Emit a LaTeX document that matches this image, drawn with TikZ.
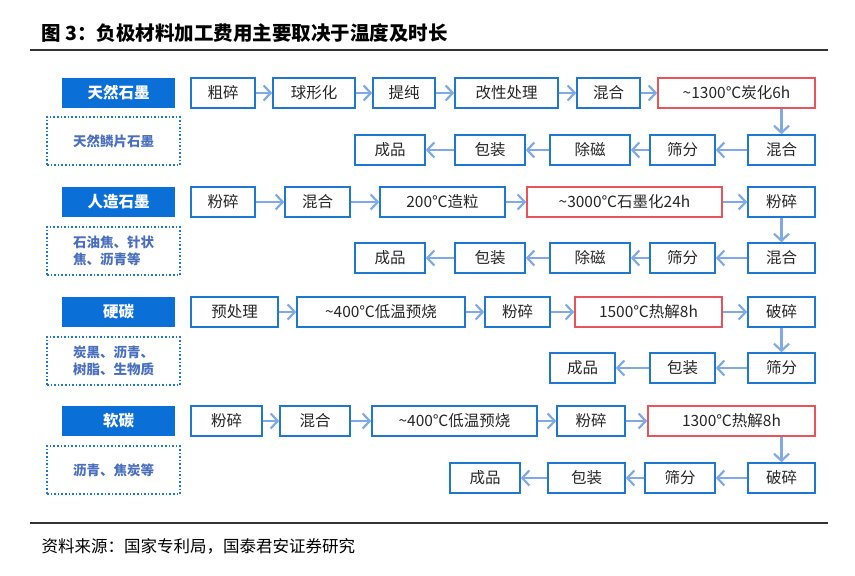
\documentclass[tikz,border=0pt]{standalone}
\usepackage{fontspec}
\setmainfont{Noto Sans CJK SC}
\usetikzlibrary{arrows.meta}
\definecolor{bblue}{HTML}{1F78D0}
\definecolor{fblue}{HTML}{0A6FD6}
\definecolor{ablue}{HTML}{7FAAE6}
\definecolor{rred}{HTML}{E8545A}
\definecolor{dtext}{HTML}{4A6FBF}
\begin{document}
\begin{tikzpicture}[x=1pt,y=-1pt,
  box/.style={draw=bblue,line width=1.6pt,minimum height=30pt,inner sep=0pt,font=\fontsize{15.5}{15.5}\selectfont,text=black!85},
  rbox/.style={box,draw=rred},
  lab/.style={fill=fblue,minimum width=113pt,minimum height=30pt,inner sep=0pt,text=white,font=\fontsize{15.5}{15.5}\selectfont\bfseries},
  dot/.style={draw=bblue,dotted,line width=1.6pt,minimum width=133pt,minimum height=48pt,inner sep=0pt,text=dtext,font=\fontsize{13.5}{17}\selectfont\bfseries,align=left},
  arr/.style={draw=ablue,line width=2.2pt,-{Straight Barb[length=7pt,width=15pt]}}]
\useasboundingbox (0,0) rectangle (855,576);
\node[anchor=west,font=\fontsize{19.5}{19.5}\selectfont\bfseries] (title) at (38,33) {图 3：负极材料加工费用主要取决于温度及时长};
\draw[line width=1.5pt,black!80] (30,50) coordinate (t1) -- (828,50) coordinate (t2);
\draw[line width=1.5pt,black!80] (30,523) coordinate (b1) -- (828,523) coordinate (b2);
\node[anchor=west,font=\fontsize{16.5}{16.5}\selectfont] (src) at (38,546) {资料来源：国家专利局，国泰君安证券研究};
% row 1
\node[lab] (L1) at (118.5,93) {天然石墨};
\node[dot] (D1) at (113.5,141) {天然鳞片石墨};
\node[box,minimum width=64pt] (a1) at (223,93) {粗碎};
\node[box,minimum width=82pt] (a2) at (314,93) {球形化};
\node[box,minimum width=62pt] (a3) at (404,93) {提纯};
\node[box,minimum width=103pt] (a4) at (506.5,93) {改性处理};
\node[box,minimum width=63pt] (a5) at (608.5,93) {混合};
\node[rbox,minimum width=157pt] (a6) at (736.5,93) {\textasciitilde1300℃炭化6h};
\node[box,minimum width=67pt] (b1n) at (781.5,150) {混合};
\node[box,minimum width=65pt] (b2n) at (682.5,150) {筛分};
\node[box,minimum width=80pt] (b3n) at (590,150) {除磁};
\node[box,minimum width=70pt] (b4n) at (490,150) {包装};
\node[box,minimum width=70pt] (b5n) at (390,150) {成品};
\foreach \p/\q in {a1/a2,a2/a3,a3/a4,a4/a5,a5/a6,b1n/b2n,b2n/b3n,b3n/b4n,b4n/b5n} \draw[arr] (\p) -- (\q);
\draw[arr] (a6.south -| b1n) -- (b1n);
% row 2
\node[lab] (L2) at (118.5,202) {人造石墨};
\node[dot] (D2) at (113.5,251) {石油焦、针状\\焦、沥青等};
\node[box,minimum width=64pt] (c1) at (223,202) {粉碎};
\node[box,minimum width=65pt] (c2) at (317.5,202) {混合};
\node[box,minimum width=125pt] (c3) at (442.5,202) {200℃造粒};
\node[rbox,minimum width=195pt] (c4) at (624.5,202) {\textasciitilde3000℃石墨化24h};
\node[box,minimum width=67pt] (c5) at (781.5,202) {粉碎};
\node[box,minimum width=67pt] (d1) at (781.5,258) {混合};
\node[box,minimum width=65pt] (d2) at (682.5,258) {筛分};
\node[box,minimum width=80pt] (d3) at (590,258) {除磁};
\node[box,minimum width=70pt] (d4) at (490,258) {包装};
\node[box,minimum width=70pt] (d5) at (390,258) {成品};
\foreach \p/\q in {c1/c2,c2/c3,c3/c4,c4/c5,c5/d1,d1/d2,d2/d3,d3/d4,d4/d5} \draw[arr] (\p) -- (\q);
% row 3
\node[lab] (L3) at (118.5,312) {硬碳};
\node[dot] (D3) at (113.5,361) {炭黑、沥青、\\树脂、生物质};
\node[box,minimum width=87pt] (e1) at (234.5,312) {预处理};
\node[box,minimum width=168pt] (e2) at (381,312) {\textasciitilde400℃低温预烧};
\node[box,minimum width=65pt] (e3) at (517.5,312) {粉碎};
\node[rbox,minimum width=147pt] (e4) at (648.5,312) {1500℃热解8h};
\node[box,minimum width=67pt] (e5) at (781.5,312) {破碎};
\node[box,minimum width=67pt] (f1) at (781.5,368) {筛分};
\node[box,minimum width=65pt] (f2) at (682.5,368) {包装};
\node[box,minimum width=65pt] (f3) at (582.5,368) {成品};
\foreach \p/\q in {e1/e2,e2/e3,e3/e4,e4/e5,e5/f1,f1/f2,f2/f3} \draw[arr] (\p) -- (\q);
% row 4
\node[lab] (L4) at (118.5,421) {软碳};
\node[dot] (D4) at (113.5,470) {沥青、焦炭等};
\node[box,minimum width=71pt] (g1) at (226.5,421) {粉碎};
\node[box,minimum width=70pt] (g2) at (315,421) {混合};
\node[box,minimum width=165pt] (g3) at (454.5,421) {\textasciitilde400℃低温预烧};
\node[box,minimum width=68pt] (g4) at (591,421) {粉碎};
\node[rbox,minimum width=167pt] (g5) at (731.5,421) {1300℃热解8h};
\node[box,minimum width=67pt] (h1) at (781.5,478) {破碎};
\node[box,minimum width=70pt] (h2) at (680,478) {筛分};
\node[box,minimum width=77pt] (h3) at (586.5,478) {包装};
\node[box,minimum width=70pt] (h4) at (485,478) {成品};
\foreach \p/\q in {g1/g2,g2/g3,g3/g4,g4/g5,h1/h2,h2/h3,h3/h4} \draw[arr] (\p) -- (\q);
\draw[arr] (g5.south -| h1) -- (h1);
\end{tikzpicture}
\end{document}
